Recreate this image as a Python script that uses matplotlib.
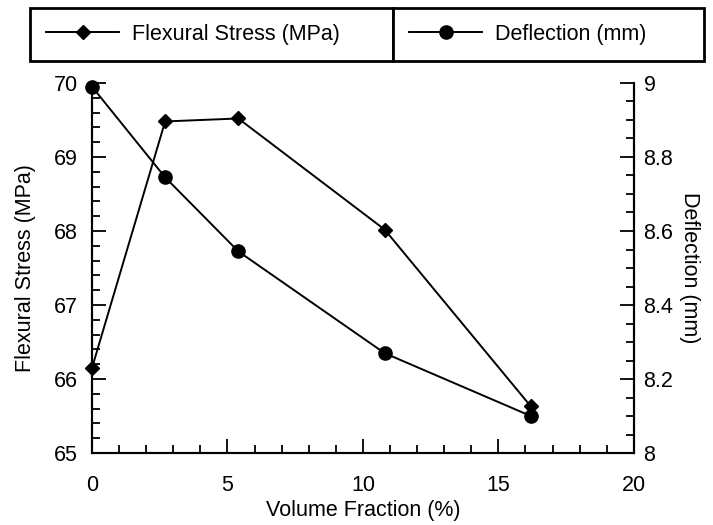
import matplotlib
matplotlib.use("Agg")
import matplotlib.pyplot as plt
from matplotlib.ticker import MultipleLocator, FormatStrFormatter
from matplotlib.lines import Line2D

plt.rcParams['font.family'] = ['Liberation Sans', 'DejaVu Sans']

# data
volume_fraction = [0, 2.7, 5.4, 10.8, 16.2]
flexural_stress = [66.15, 69.48, 69.52, 68.02, 65.63]
deflection = [8.99, 8.745, 8.545, 8.27, 8.10]

FS = 15.5

fig = plt.figure(figsize=(7.13, 5.25), dpi=100)
ax = fig.add_axes([0.129, 0.137, 0.760, 0.705])
ax2 = ax.twinx()

ax.plot(volume_fraction, flexural_stress, color='black', lw=1.4,
        marker='D', markersize=7.5, clip_on=False, zorder=3)
ax2.plot(volume_fraction, deflection, color='black', lw=1.4,
         marker='o', markersize=9.5, clip_on=False, zorder=3)

ax.set_xlim(0, 20)
ax.set_ylim(65, 70)
ax2.set_ylim(8, 9)

ax.xaxis.set_major_locator(MultipleLocator(5))
ax.xaxis.set_minor_locator(MultipleLocator(1))
ax.yaxis.set_major_locator(MultipleLocator(1))
ax.yaxis.set_minor_locator(MultipleLocator(0.2))
ax2.yaxis.set_major_locator(MultipleLocator(0.2))
ax2.yaxis.set_minor_locator(MultipleLocator(0.05))
ax2.yaxis.set_major_formatter(FormatStrFormatter('%g'))

for a in (ax, ax2):
    a.spines['top'].set_visible(False)
    for s in a.spines.values():
        s.set_linewidth(1.5)
    a.tick_params(which='both', direction='in', width=1.3, labelsize=FS)
    a.tick_params(which='major', length=10)
    a.tick_params(which='minor', length=5.5)

ax.tick_params(axis='y', right=False, pad=10)
ax.tick_params(axis='x', top=False, pad=16)
ax2.tick_params(axis='y', left=False, pad=7)

ax.set_xlabel('Volume Fraction (%)', fontsize=FS, labelpad=3)
ax.set_ylabel('Flexural Stress (MPa)', fontsize=FS, labelpad=13)
ax2.set_ylabel('Deflection (mm)', fontsize=FS, rotation=270, va='bottom', labelpad=4)

# two separate boxed legends across the top
h1 = Line2D([], [], color='black', lw=1.4, marker='D', markersize=7.5)
h2 = Line2D([], [], color='black', lw=1.4, marker='o', markersize=9.5)
boxes = [(h1, 'Flexural Stress (MPa)', (0.042, 0.891, 0.509, 0.094)),
         (h2, 'Deflection (mm)', (0.551, 0.891, 0.436, 0.094))]
for handle, label, bbox in boxes:
    leg = fig.legend([handle], [label], loc='upper left', bbox_to_anchor=bbox,
                     bbox_transform=fig.transFigure, mode='expand', fontsize=FS,
                     fancybox=False, borderpad=0.75, handlelength=3.4,
                     handletextpad=0.6, borderaxespad=0, framealpha=1)
    leg.get_frame().set_edgecolor('black')
    leg.get_frame().set_linewidth(2.0)

fig.savefig('out.png', dpi=100)
